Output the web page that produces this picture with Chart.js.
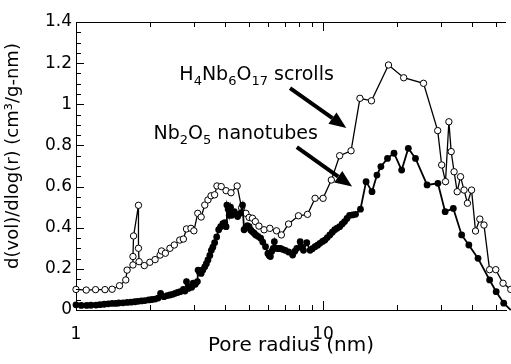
<!DOCTYPE html>
<html>
<head>
<meta charset="utf-8">
<title>Pore size distribution</title>
<script src="https://cdn.jsdelivr.net/npm/chart.js@4"></script>
<style>
    html, body { margin: 0; padding: 0; background: #fff; overflow: hidden; }
    #c { display: block; }
</style>
</head>
<body>
<canvas id="c" width="511" height="364"></canvas>
<script>
// pore radius (nm) and d(vol)/dlog(r)
const scrollR = [1.00, 1.10, 1.20, 1.31, 1.40, 1.50, 1.59, 1.61, 1.70, 1.70,
    1.71, 1.79, 1.79, 1.80, 1.89, 1.99, 2.09, 2.19, 2.22, 2.30,
    2.40, 2.50, 2.63, 2.72, 2.80, 2.92, 3.00, 3.11, 3.21, 3.32,
    3.42, 3.52, 3.64, 3.72, 3.87, 4.05, 4.24, 4.49, 4.68, 4.87,
    5.02, 5.18, 5.32, 5.50, 5.77, 6.09, 6.48, 6.78, 7.25, 7.95,
    8.65, 9.28, 10.0, 10.8, 11.67, 12.98, 14.1, 15.7, 18.4, 21.2,
    25.5, 29.1, 30.2, 31.3, 32.3, 33.0, 33.9, 34.9, 36.0, 37.2,
    38.4, 39.9, 41.4, 43.1, 44.8, 47.2, 50.0, 53.5, 57.5];
const scrollV = [0.100, 0.097, 0.099, 0.099, 0.101, 0.118, 0.146, 0.194, 0.219, 0.260,
    0.360, 0.509, 0.300, 0.235, 0.216, 0.232, 0.245, 0.267, 0.287, 0.276,
    0.300, 0.316, 0.340, 0.345, 0.394, 0.397, 0.385, 0.470, 0.452, 0.510,
    0.535, 0.555, 0.560, 0.603, 0.600, 0.580, 0.570, 0.603, 0.497, 0.470,
    0.450, 0.446, 0.430, 0.408, 0.390, 0.397, 0.385, 0.365, 0.418, 0.458,
    0.465, 0.543, 0.543, 0.632, 0.750, 0.774, 1.029, 1.017, 1.191, 1.129,
    1.102, 0.872, 0.705, 0.624, 0.915, 0.770, 0.672, 0.575, 0.648, 0.583,
    0.519, 0.583, 0.384, 0.442, 0.413, 0.196, 0.196, 0.130, 0.100];

const tubeR = [1.00, 1.05, 1.105, 1.15, 1.205, 1.25, 1.30, 1.35, 1.40, 1.45,
    1.49, 1.55, 1.61, 1.67, 1.73, 1.78, 1.84, 1.90, 1.97, 2.03,
    2.09, 2.15, 2.20, 2.27, 2.34, 2.40, 2.46, 2.52, 2.58, 2.64,
    2.72, 2.76, 2.80, 2.85, 2.89, 2.94, 2.98, 3.04, 3.10, 3.12,
    3.16, 3.21, 3.26, 3.32, 3.37, 3.42, 3.48, 3.53, 3.58, 3.64,
    3.71, 3.78, 3.85, 3.93, 4.00, 4.05, 4.08, 4.13, 4.17, 4.22,
    4.27, 4.37, 4.51, 4.62, 4.72, 4.79, 4.86, 4.94, 5.02, 5.10,
    5.18, 5.26, 5.34, 5.45, 5.59, 5.70, 5.85, 5.98, 6.05, 6.12,
    6.20, 6.28, 6.35, 6.41, 6.52, 6.62, 6.72, 6.85, 7.03, 7.25,
    7.53, 7.68, 7.83, 8.08, 8.20, 8.33, 8.59, 8.86, 9.05, 9.28,
    9.50, 9.71, 9.95, 10.17, 10.40, 10.65, 10.9, 11.15, 11.4, 11.67,
    11.95, 12.22, 12.50, 12.80, 13.15, 13.53, 14.17, 14.93, 15.78, 16.52,
    17.14, 18.23, 19.37, 20.80, 22.13, 23.66, 26.36, 29.16, 31.19, 33.66,
    36.38, 38.90, 42.38, 47.21, 50.19, 53.85, 57.5];
const tubeV = [0.025, 0.022, 0.022, 0.023, 0.024, 0.026, 0.028, 0.030, 0.032, 0.032,
    0.034, 0.035, 0.037, 0.038, 0.040, 0.042, 0.044, 0.046, 0.049, 0.051,
    0.053, 0.058, 0.081, 0.065, 0.070, 0.073, 0.076, 0.081, 0.085, 0.089,
    0.100, 0.092, 0.138, 0.105, 0.113, 0.110, 0.130, 0.125, 0.138, 0.194,
    0.183, 0.178, 0.195, 0.210, 0.225, 0.243, 0.265, 0.290, 0.305, 0.327,
    0.355, 0.390, 0.405, 0.420, 0.425, 0.405, 0.510, 0.490, 0.460, 0.500,
    0.460, 0.478, 0.454, 0.470, 0.510, 0.390, 0.400, 0.410, 0.405, 0.388,
    0.380, 0.373, 0.365, 0.358, 0.349, 0.330, 0.308, 0.275, 0.265, 0.260,
    0.285, 0.300, 0.332, 0.300, 0.300, 0.298, 0.300, 0.295, 0.290, 0.282,
    0.267, 0.285, 0.300, 0.332, 0.305, 0.290, 0.327, 0.290, 0.298, 0.308,
    0.315, 0.324, 0.333, 0.340, 0.352, 0.365, 0.378, 0.390, 0.398, 0.405,
    0.418, 0.430, 0.445, 0.460, 0.462, 0.465, 0.490, 0.624, 0.575, 0.656,
    0.697, 0.737, 0.762, 0.680, 0.786, 0.737, 0.608, 0.616, 0.478, 0.494,
    0.365, 0.316, 0.251, 0.146, 0.089, 0.033, 0.000];

const xLabelled = [1, 10];
const yTicks = [0, 0.2, 0.4, 0.6, 0.8, 1, 1.2, 1.4];

const FONT = '"DejaVu Sans", sans-serif';

const toPts = (xs, ys) => xs.map((x, i) => ({ x: x, y: ys[i] }));

// draws subscripted text, parts = [text, isSub]
function richText(ctx, x, y, parts) {
    let cx = x;
    parts.forEach(([t, sub]) => {
        ctx.font = (sub ? '13px ' : '19px ') + FONT;
        ctx.fillText(t, cx, sub ? y + 5 : y);
        cx += ctx.measureText(t).width;
    });
}

function arrow(ctx, x1, y1, x2, y2) {
    const a = Math.atan2(y2 - y1, x2 - x1);
    const hl = 17, hw = 7;
    const bx = x2 - hl * Math.cos(a), by = y2 - hl * Math.sin(a);
    ctx.lineWidth = 4;
    ctx.beginPath();
    ctx.moveTo(x1, y1);
    ctx.lineTo(bx, by);
    ctx.stroke();
    ctx.beginPath();
    ctx.moveTo(x2, y2);
    ctx.lineTo(bx + hw * Math.sin(a), by - hw * Math.cos(a));
    ctx.lineTo(bx - hw * Math.sin(a), by + hw * Math.cos(a));
    ctx.closePath();
    ctx.fill();
}

const frame = {
    id: 'frame',
    afterDatasetsDraw(chart) {
        const { ctx, chartArea: a } = chart;
        const xs = chart.scales.x, ys = chart.scales.y;
        ctx.save();
        ctx.strokeStyle = '#000';
        ctx.fillStyle = '#000';
        ctx.lineWidth = 1;

        // top frame line
        ctx.beginPath();
        ctx.moveTo(a.left, a.top + 0.5);
        ctx.lineTo(a.right, a.top + 0.5);
        ctx.stroke();

        // inner ticks on x (bottom and top)
        ctx.beginPath();
        [1, 10].forEach((dec) => {
            for (let m = 1; m <= 9; m++) {
                const v = m * dec;
                if (v > xs.max) break;
                const px = Math.round(xs.getPixelForValue(v)) + 0.5;
                const len = m === 1 ? 9 : 5;
                ctx.moveTo(px, a.bottom);
                ctx.lineTo(px, a.bottom - len);
                ctx.moveTo(px, a.top);
                ctx.lineTo(px, a.top + len);
            }
        });
        // inner ticks on y, minor every 0.05
        for (let i = 0; i <= 28; i++) {
            const py = Math.round(ys.getPixelForValue(i * 0.05)) + 0.5;
            const len = i % 4 === 0 ? 8 : 5;
            ctx.moveTo(a.left, py);
            ctx.lineTo(a.left + len, py);
        }
        ctx.stroke();

        // y axis title
        ctx.save();
        ctx.translate(13, 156);
        ctx.rotate(-Math.PI / 2);
        ctx.font = '18px ' + FONT;
        ctx.textAlign = 'center';
        ctx.textBaseline = 'middle';
        ctx.fillText('d(vol)/dlog(r) (cm³/g-nm)', 0, 0);
        ctx.restore();

        // annotations
        ctx.textBaseline = 'alphabetic';
        ctx.textAlign = 'left';
        richText(ctx, xs.getPixelForValue(2.62), ys.getPixelForValue(1.118),
            [['H', 0], ['4', 1], ['Nb', 0], ['6', 1], ['O', 0], ['17', 1], [' scrolls', 0]]);
        richText(ctx, xs.getPixelForValue(2.06), ys.getPixelForValue(0.831),
            [['Nb', 0], ['2', 1], ['O', 0], ['5', 1], [' nanotubes', 0]]);

        arrow(ctx, xs.getPixelForValue(7.35), ys.getPixelForValue(1.079),
            xs.getPixelForValue(12.42), ys.getPixelForValue(0.885));
        arrow(ctx, xs.getPixelForValue(7.83), ys.getPixelForValue(0.792),
            xs.getPixelForValue(13.1), ys.getPixelForValue(0.6));
        ctx.restore();
    }
};

new Chart(document.getElementById('c'), {
    type: 'scatter',
    data: {
        datasets: [{
            label: 'Nb2O5 nanotubes',
            data: toPts(tubeR, tubeV),
            showLine: true,
            borderColor: '#000',
            borderWidth: 1.8,
            backgroundColor: '#000',
            pointRadius: 3.4,
            pointBorderWidth: 0,
            clip: false
        }, {
            label: 'H4Nb6O17 scrolls',
            data: toPts(scrollR, scrollV),
            showLine: true,
            borderColor: '#000',
            borderWidth: 1.3,
            backgroundColor: '#fff',
            pointBackgroundColor: '#fff',
            pointBorderColor: '#000',
            pointBorderWidth: 1,
            pointRadius: 3.2,
            clip: false
        }]
    },
    options: {
        responsive: false,
        animation: false,
        devicePixelRatio: 1,
        layout: { padding: { top: 22, right: 0, bottom: 0, left: 0 } },
        plugins: { legend: { display: false }, tooltip: { enabled: false } },
        scales: {
            x: {
                type: 'logarithmic',
                min: 1,
                max: 55,
                position: 'bottom',
                afterFit(s) {
                    s.height = 54;
                    s.paddingLeft = 0;
                    s.paddingRight = 0;
                },
                grid: { display: false, drawTicks: false, tickLength: 0 },
                border: { display: true, color: '#000', width: 1 },
                ticks: {
                    autoSkip: false,
                    maxRotation: 0,
                    padding: 14,
                    color: '#000',
                    font: { family: FONT, size: 17 },
                    callback: (v) => xLabelled.includes(v) ? String(v) : ''
                },
                title: {
                    display: true,
                    text: 'Pore radius (nm)',
                    color: '#000',
                    font: { family: FONT, size: 20 },
                    padding: { top: 0, bottom: 6 }
                }
            },
            y: {
                min: 0,
                max: 1.4,
                afterFit(s) {
                    s.width = 76;
                    s.paddingTop = 0;
                    s.paddingBottom = 0;
                },
                afterBuildTicks(s) { s.ticks = yTicks.map((v) => ({ value: v })); },
                grid: { display: false, drawTicks: false, tickLength: 0 },
                border: { display: true, color: '#000', width: 1 },
                ticks: {
                    padding: 4,
                    color: '#000',
                    font: { family: FONT, size: 17 },
                    callback: (v) => String(v)
                }
            }
        }
    },
    plugins: [frame]
});
</script>
</body>
</html>
